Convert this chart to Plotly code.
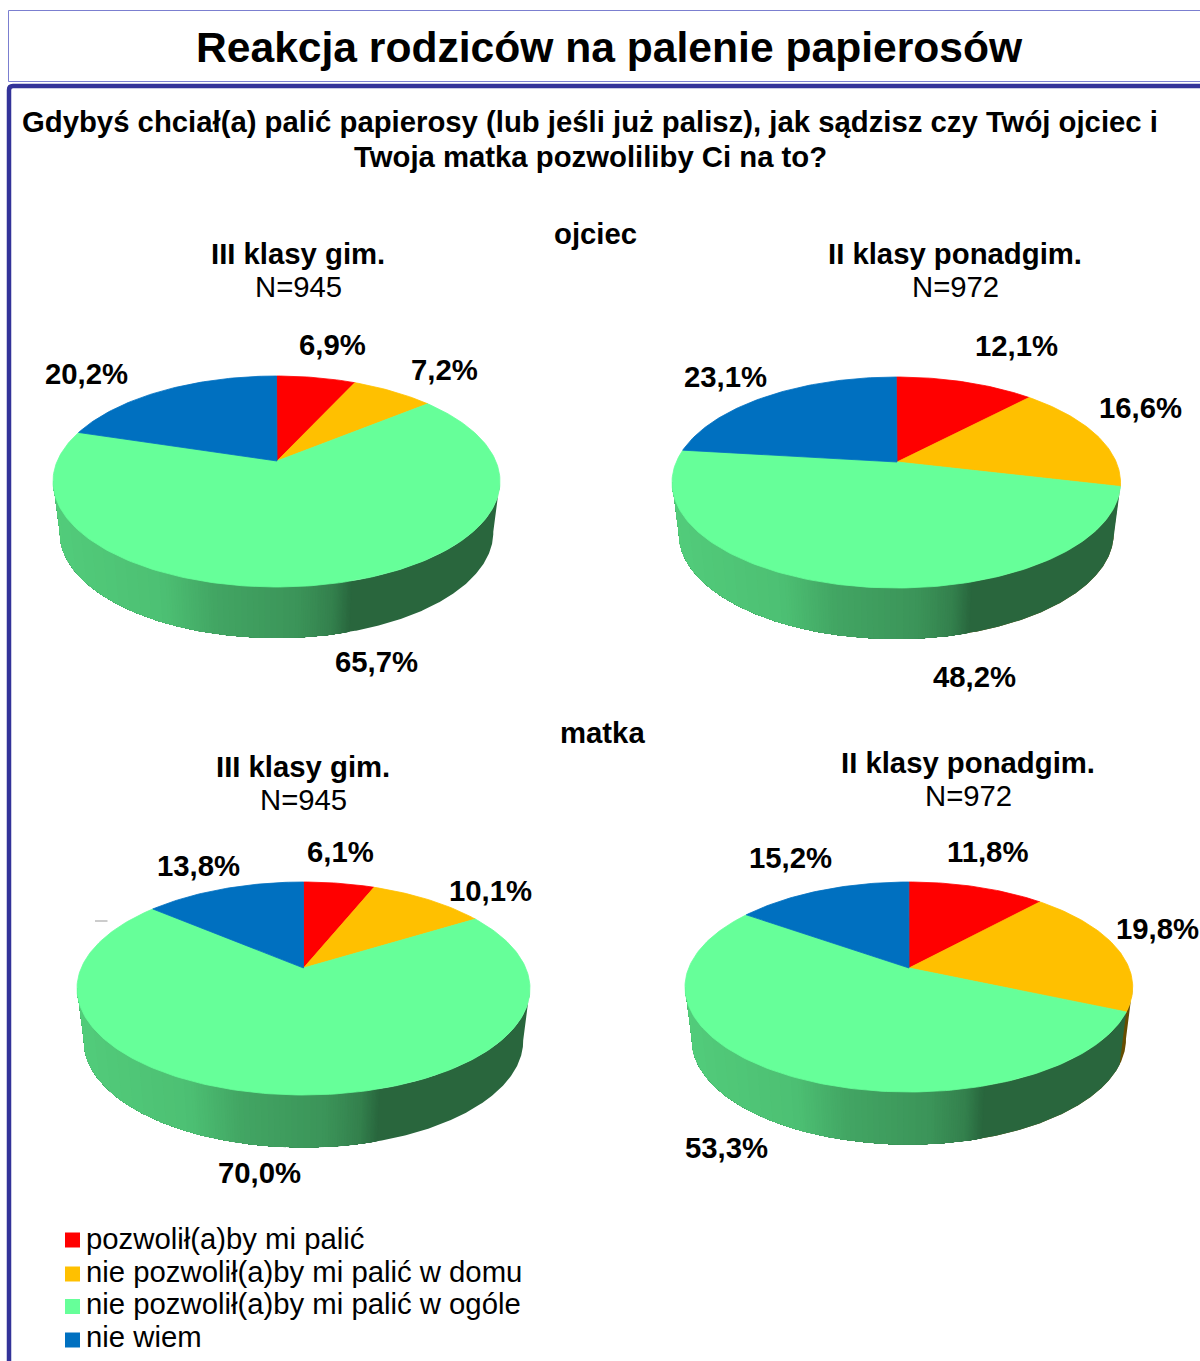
import math
import plotly.graph_objects as go

# ---------- data ----------
categories = ["pozwolił(a)by mi palić", "nie pozwolił(a)by mi palić w domu",
              "nie pozwolił(a)by mi palić w ogóle", "nie wiem"]
ojciec_gim = [6.9, 7.2, 65.7, 20.2]
ojciec_ponadgim = [12.1, 16.6, 48.2, 23.1]
matka_gim = [6.1, 10.1, 70.0, 13.8]
matka_ponadgim = [11.8, 19.8, 53.3, 15.2]

# ---------- styles / layout ----------
colors = ["#FF0000", "#FFC000", "#66FF99", "#0070C0"]
FONT = "Liberation Sans"
W, H = 1200, 1361

# pie placement: apex x, apex y, left, right, top, front of top face, bottom of side
pies = [
    (ojciec_gim, 277, 461, 53, 500, 376, 587, 638,
     [(332, 345), (444, 370), (376, 662), (86, 374)]),
    (ojciec_ponadgim, 897, 462, 672, 1120.5, 377, 588, 639,
     [(1016, 346), (1140, 408), (974, 677), (725, 377)]),
    (matka_gim, 303.5, 968, 77, 530, 882, 1095, 1147.5,
     [(340, 852), (490, 891), (259, 1173), (198, 866)]),
    (matka_ponadgim, 909, 968, 685, 1132.7, 882, 1092, 1144.5,
     [(987, 852), (1157, 929), (726, 1148), (790, 858)]),
]
shade_stops = [(0.0, 0.80), (0.25, 0.75), (0.36, 0.65), (0.55, 0.58), (0.63, 0.50), (0.67, 0.40), (1.0, 0.40)]


def shade(f):
    f = min(max(f, 0), 1)
    for (a, va), (b, vb) in zip(shade_stops, shade_stops[1:]):
        if f <= b:
            return va + (vb - va) * (f - a) / (b - a)
    return shade_stops[-1][1]


def rgb_scaled(hexc, s):
    r, g, b = (int(hexc[i:i + 2], 16) for i in (1, 3, 5))
    return f"rgb({r * s:.0f},{g * s:.0f},{b * s:.0f})"


fig = go.Figure()


def poly(xs, ys, color, width=0.8):
    fig.add_trace(go.Scatter(x=xs, y=ys, mode="lines", fill="toself", fillcolor=color,
                             line=dict(color=color, width=width), hoverinfo="skip", showlegend=False))


def draw_pie(values, ax, ay, left, right, top, front, bottom):
    up, down = ay - top, front - ay
    ratio = down / up
    k = (ratio - 1) / (ratio + 1)
    b = up * (1 + k)
    rx = (right - left) / 2
    a = rx * math.sqrt(1 - k * k)
    cx = (left + right) / 2
    cy = (top + front) / 2
    depth = bottom - front
    shrink = 0.97

    def pt(theta):
        u, v = math.sin(theta), math.cos(theta)
        den = 1 + k * v
        return cx + a * u / den, ay - b * v / den

    total = sum(values)
    bounds = [0]
    for val in values:
        bounds.append(bounds[-1] + val / total * 2 * math.pi)

    # side wall: painted right to left, each colour covering everything still to come
    n = 1440
    edge, edge_col = [], []
    for i in range(n + 1):
        t = 2 * math.pi * i / n
        x, y = pt(t)
        if y < cy - 1:
            continue
        idx = next((j for j in range(len(values)) if t <= bounds[j + 1]), len(values) - 1)
        f = (x - left) / (right - left)
        edge.append((x, y))
        edge_col.append(rgb_scaled(colors[idx], round(shade(f) * 200) / 200))
    for i, col in enumerate(edge_col):
        if i == 0 or col != edge_col[i - 1]:
            band = edge[i:]
            if len(band) < 2:
                continue
            xs = [p[0] for p in band] + [cx + (p[0] - cx) * shrink for p in reversed(band)] + [band[0][0]]
            ys = [p[1] for p in band] + [p[1] + depth for p in reversed(band)] + [band[0][1]]
            poly(xs, ys, col, 0)

    # top face
    for j, c in enumerate(colors):
        steps = max(4, int((bounds[j + 1] - bounds[j]) / 0.02))
        arc = [pt(bounds[j] + (bounds[j + 1] - bounds[j]) * s / steps) for s in range(steps + 1)]
        poly([ax] + [p[0] for p in arc] + [ax], [ay] + [p[1] for p in arc] + [ay], c)


for values, ax, ay, l, r, t, fr, bo, _ in pies:
    draw_pie(values, ax, ay, l, r, t, fr, bo)

# legend swatches
legend_y = [1240, 1274, 1306.5, 1340]
legend_text_y = [1239, 1272, 1304, 1337]
for c, y, name in zip(colors, legend_y, categories):
    fig.add_trace(go.Scatter(x=[72.5], y=[y], mode="markers", name=name, hoverinfo="skip",
                             marker=dict(symbol="square", size=15, color=c, line=dict(width=0)),
                             showlegend=False))

ann = []


def text(x, y, s, size=29.3, bold=True, anchor="center"):
    ann.append(dict(x=x, y=y - 1 if size == 29.3 else y, xref="x", yref="y",
                    text=f"<b>{s}</b>" if bold else s,
                    showarrow=False, xanchor=anchor, yanchor="middle",
                    font=dict(family=FONT, size=size, color="black")))


text(609, 47, "Reakcja rodziców na palenie papierosów", 42.6)
text(590, 122, "Gdybyś chciał(a) palić papierosy (lub jeśli już palisz), jak sądzisz czy Twój ojciec i")
text(590, 157, "Twoja matka pozwoliliby Ci na to?")
text(595, 234, "ojciec")
text(602, 733, "matka")
for x, y, head, nlab in [(298, 254, "III klasy gim.", "N=945"), (955, 254, "II klasy ponadgim.", "N=972"),
                         (303, 767, "III klasy gim.", "N=945"), (968, 763, "II klasy ponadgim.", "N=972")]:
    text(x, y, head)
    text(x, y + 33, nlab, bold=False)
for values, *_rest, labels in pies:
    for v, (x, y) in zip(values, labels):
        text(x, y, f"{v:.1f}%".replace(".", ","))
for name, y in zip(categories, legend_text_y):
    text(84, y, name, bold=False, anchor="left")

shapes = [
    dict(type="rect", x0=8.5, x1=1210, y0=10.5, y1=81.5, xref="x", yref="y",
         line=dict(color="#7B7FD0", width=1), layer="below"),
    dict(type="path", path="M 9 1375 L 9 90 Q 9 86 13 86 L 1210 86", xref="x", yref="y",
         line=dict(color="#333399", width=4.5), layer="above"),
    dict(type="line", x0=95, x1=107.5, y0=921, y1=921, xref="x", yref="y",
         line=dict(color="#999999", width=1)),
]

fig.update_layout(
    width=W, height=H, margin=dict(l=0, r=0, t=0, b=0),
    paper_bgcolor="white", plot_bgcolor="white", showlegend=False,
    xaxis=dict(range=[0, W], visible=False, fixedrange=True),
    yaxis=dict(range=[H, 0], visible=False, fixedrange=True),
    annotations=ann, shapes=shapes,
)
fig.write_html("out.html", config={"displayModeBar": False},
               post_script="document.body.style.margin='0';document.documentElement.style.overflow='hidden';")
